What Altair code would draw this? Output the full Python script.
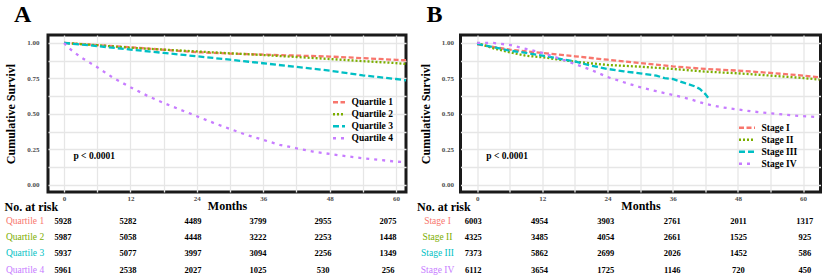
import altair as alt
import pandas as pd

COLORS = ["#F8766D", "#7CAE00", "#00BFC4", "#C77CFF"]
DASHES = [[5, 2.5], [2, 2], [6, 3], [3, 5]]
SERIF = "Liberation Serif"

# ---------------- Panel A data ----------------
A_GROUPS = ["Quartile 1", "Quartile 2", "Quartile 3", "Quartile 4"]
A_T123 = [0, 6, 12, 18, 24, 30, 36, 42, 48, 54, 60, 62]
A_Q1 = [1.0, 0.985, 0.970, 0.952, 0.935, 0.925, 0.918, 0.911, 0.904, 0.893, 0.881, 0.878]
A_Q2 = [1.0, 0.984, 0.966, 0.953, 0.940, 0.927, 0.915, 0.901, 0.887, 0.872, 0.858, 0.851]
A_Q3 = [1.0, 0.978, 0.953, 0.930, 0.906, 0.882, 0.857, 0.831, 0.805, 0.772, 0.746, 0.735]
A_T4 = [0, 1, 3, 6, 9, 12, 15, 18, 21, 24, 27, 30, 33, 36, 39, 42, 45, 48, 51, 54, 57, 60, 62]
A_Q4 = [1.0, 0.96, 0.90, 0.829, 0.751, 0.688, 0.629, 0.577, 0.530, 0.484, 0.437, 0.394,
        0.352, 0.317, 0.282, 0.258, 0.235, 0.218, 0.202, 0.188, 0.176, 0.164, 0.159]
A_RISK = {
    "Quartile 1": [5928, 5282, 4489, 3799, 2955, 2075],
    "Quartile 2": [5987, 5058, 4448, 3222, 2253, 1448],
    "Quartile 3": [5937, 5077, 3997, 3094, 2256, 1349],
    "Quartile 4": [5961, 2538, 2027, 1025, 530, 256],
}

# ---------------- Panel B data ----------------
B_GROUPS = ["Stage I", "Stage II", "Stage III", "Stage IV"]
B_T1 = [0, 6, 12, 18, 24, 30, 36, 42, 48, 54, 60, 63]
B_S1 = [0.99, 0.953, 0.930, 0.906, 0.882, 0.859, 0.835, 0.817, 0.805, 0.789, 0.770, 0.758]
B_T2 = [0, 3, 6, 9, 12, 18, 24, 30, 36, 42, 48, 54, 60, 63]
B_S2 = [1.0, 0.962, 0.934, 0.91, 0.899, 0.868, 0.845, 0.833, 0.817, 0.798, 0.786, 0.770, 0.753, 0.742]
B_T3 = [0, 3, 6, 9, 12, 15, 18, 21, 24, 27, 30, 33, 34.5, 36, 38, 40, 41, 42, 42.7]
B_S3 = [0.993, 0.97, 0.946, 0.93, 0.91, 0.89, 0.87, 0.84, 0.817, 0.80, 0.786, 0.770, 0.752,
        0.746, 0.72, 0.695, 0.676, 0.64, 0.605]
B_T4 = [0, 3, 6, 9, 12, 15, 18, 21, 24, 27, 30, 33, 36, 39, 42, 45, 48, 51, 54, 57, 60, 63]
B_S4 = [1.0, 1.0, 0.986, 0.958, 0.93, 0.892, 0.852, 0.81, 0.76, 0.723, 0.688, 0.660, 0.634,
        0.606, 0.571, 0.547, 0.531, 0.516, 0.505, 0.493, 0.484, 0.477]
B_RISK = {
    "Stage I": [6003, 4954, 3903, 2761, 2011, 1317],
    "Stage II": [4325, 3485, 4054, 2661, 1525, 925],
    "Stage III": [7373, 5862, 2699, 2026, 1452, 586],
    "Stage IV": [6112, 3654, 1725, 1146, 720, 450],
}

RISK_COLS = [0, 1, 2, 3, 4, 5]
P_TEXT = "p < 0.0001"
Y_TITLE = "Cumulative Survivl"


def panel(letter, groups, curves, risk, xdom, width, table_range, legend_pos,
          sym_size, clip_h, ytitle_pad, ylabel_pad):
    rows = []
    for g, (ts, ss) in zip(groups, curves):
        for t, s in zip(ts, ss):
            rows.append({"g": g, "t": t, "s": s})
    df = pd.DataFrame(rows)

    xscale = alt.Scale(domain=xdom, nice=False, zero=False)
    yscale = alt.Scale(domain=[-0.05, 1.056], nice=False, zero=False)
    cscale = alt.Scale(domain=groups, range=COLORS)
    dscale = alt.Scale(domain=groups, range=DASHES)
    leg = alt.Legend(orient="none", legendX=legend_pos[0], legendY=legend_pos[1], title=None,
                     symbolType="stroke", symbolSize=sym_size, symbolStrokeWidth=2.5,
                     labelFont=SERIF, labelFontWeight="bold", labelFontSize=9.5,
                     labelColor="black", rowPadding=0, clipHeight=clip_h, padding=0,
                     labelOffset=5)

    lines = alt.Chart(df).mark_line(strokeWidth=2.3, clip=True).encode(
        x=alt.X("t:Q", scale=xscale,
                axis=alt.Axis(values=list(range(0, 61, 6)), title="Months",
                              labelExpr="datum.value % 12 == 0 ? datum.label : ''",
                              ticks=False, labelPadding=2, titlePadding=-1,
                              labelFont=SERIF, labelFontSize=7, labelColor="#4D4D4D",
                              labelFontWeight="bold",
                              titleFont=SERIF, titleFontSize=12, titleFontWeight="bold",
                              titleColor="black", domain=False,
                              gridColor="#E6E6E6", gridWidth=1.3)),
        y=alt.Y("s:Q", scale=yscale,
                axis=alt.Axis(values=[i * 0.125 for i in range(9)], title=Y_TITLE,
                              labelExpr="(datum.value * 4) % 1 == 0 ? format(datum.value, '.2f') : ''",
                              ticks=False, labelPadding=ylabel_pad, titlePadding=ytitle_pad,
                              labelFont=SERIF, labelFontSize=7, labelColor="#4D4D4D",
                              labelFontWeight="bold",
                              titleFont=SERIF, titleFontSize=12, titleFontWeight="bold",
                              titleColor="black", domain=False,
                              gridColor="#E6E6E6", gridWidth=1.3)),
        color=alt.Color("g:N", scale=cscale, legend=leg),
        strokeDash=alt.StrokeDash("g:N", scale=dscale, legend=leg),
    )

    ptext = alt.Chart(pd.DataFrame({"t": [1.7], "s": [0.205], "lab": [P_TEXT]})).mark_text(
        align="left", baseline="middle", font=SERIF, fontWeight="bold", fontSize=9.5, color="black"
    ).encode(
        x=alt.X("t:Q", scale=xscale, axis=None),
        y=alt.Y("s:Q", scale=yscale, axis=None),
        text="lab:N",
    )

    trows = []
    for ri, g in enumerate(groups):
        for ci, v in zip(RISK_COLS, risk[g]):
            trows.append({"row": ri, "col": ci, "v": str(v)})
    tdf = pd.DataFrame(trows)
    tx = alt.Scale(domain=[0, 5], range=table_range)
    ty = alt.Scale(domain=[0, 3], range=[185.5, 234.5])
    table = alt.Chart(tdf).mark_text(
        align="center", baseline="middle", font=SERIF, fontWeight="bold", fontSize=8.5, color="black"
    ).encode(
        x=alt.X("col:Q", scale=tx, axis=None),
        y=alt.Y("row:Q", scale=ty, axis=None),
        text="v:N",
    )

    ldf = pd.DataFrame({"row": list(range(4)), "lab": groups, "c": COLORS})
    labels = alt.Chart(ldf).mark_text(
        align="center", baseline="middle", font=SERIF, fontSize=9.5
    ).encode(
        x=alt.value(-23),
        y=alt.Y("row:Q", scale=ty, axis=None),
        text="lab:N",
        color=alt.Color("c:N", scale=None),
    )

    head = alt.Chart(pd.DataFrame({"lab": ["No. at risk"]})).mark_text(
        align="left", baseline="middle", font=SERIF, fontWeight="bold", fontSize=12, color="black"
    ).encode(x=alt.value(-43.5), y=alt.value(172), text="lab:N")

    return alt.layer(lines, ptext, table, labels, head).resolve_scale(
        x="independent", y="independent"
    ).properties(
        width=width, height=157,
        title=alt.TitleParams(letter, anchor="start", frame="group", dx=-34, offset=8,
                              font=SERIF, fontSize=24, fontWeight="bold", color="black"),
    )


pa = panel("A", A_GROUPS, [(A_T123, A_Q1), (A_T123, A_Q2), (A_T123, A_Q3), (A_T4, A_Q4)],
           A_RISK, [-2.9, 61.8], 358, [15, 340], (283.5, 61.5), 144, 11.3, 9, 9)
pb = panel("B", B_GROUPS, [(B_T1, B_S1), (B_T2, B_S2), (B_T3, B_S3), (B_T4, B_S4)],
           B_RISK, [-3.06, 63.2], 360, [12.7, 344.3], (277, 87), 256, 11.5, 9, 7)

chart = alt.hconcat(pa, pb, spacing=7.5).resolve_scale(
    color="independent", strokeDash="independent"
).resolve_legend(
    color="independent", strokeDash="independent"
).properties(
    padding={"left": 3, "top": 1, "right": 0, "bottom": 0}
).configure(background="white").configure_view(stroke="#1a1a1a", strokeWidth=3)

chart.save("out.html", embed_options={"renderer": "svg", "actions": False})
